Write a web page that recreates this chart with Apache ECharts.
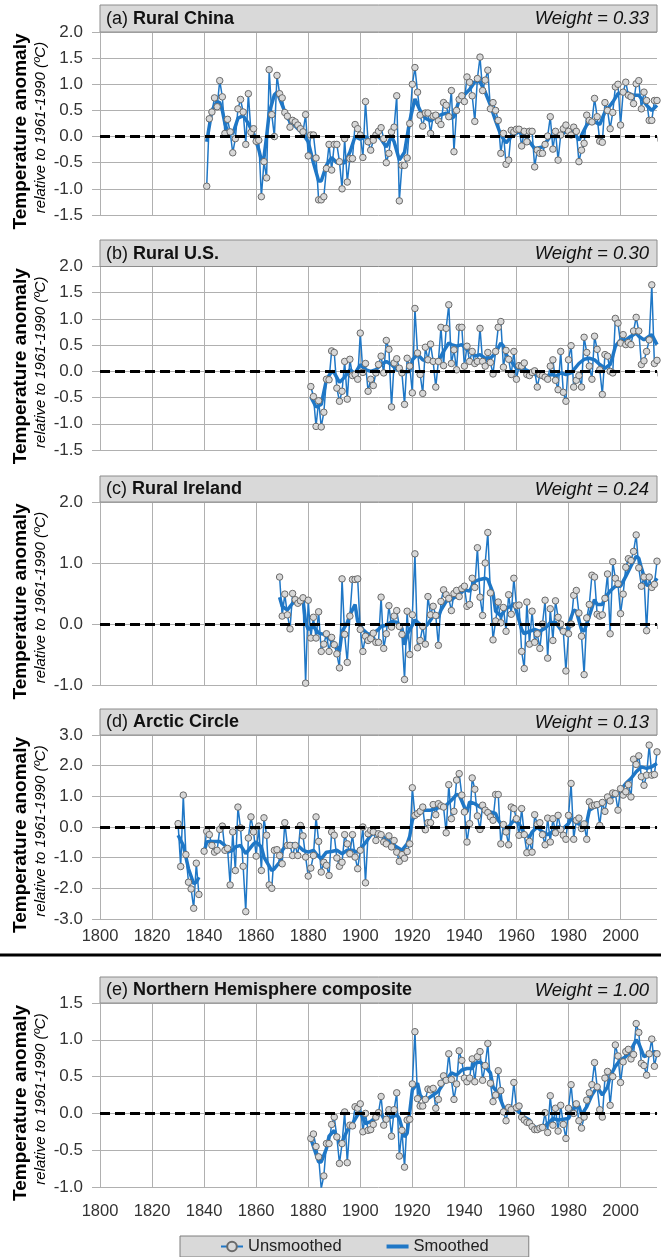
<!DOCTYPE html>
<html><head><meta charset="utf-8">
<script src="https://cdn.jsdelivr.net/npm/echarts@6/dist/echarts.min.js"></script>
<style>html,body{margin:0;padding:0;background:#fff}#c{width:661px;height:1257px}</style>
</head><body><div id="c"></div>
<script>
// ---------------- DATA ----------------
const panelLetters = ['(a)', '(b)', '(c)', '(d)', '(e)'];
const panelNames = ['Rural China', 'Rural U.S.', 'Rural Ireland', 'Arctic Circle', 'Northern Hemisphere composite'];
const panelWeights = ['0.33', '0.30', '0.24', '0.13', '1.00'];
const seriesNames = ['Unsmoothed', 'Smoothed'];

const chinaStart = 1841;
const chinaRaw = [
 -0.95,0.34,0.47,0.74,0.57,1.07,0.76,0.06,0.33,0.09,
 -0.31,-0.04,0.53,0.71,0.47,-0.15,0.82,0.08,0.15,-0.09,
 -0.07,-1.15,-0.48,-0.79,1.28,0.42,0.0,1.17,0.82,0.74,
 0.46,0.39,0.18,0.31,0.28,0.22,0.15,0.09,0.42,-0.37,
 0.03,0.03,-0.41,-1.21,-1.21,-1.15,-0.61,-0.15,-0.64,-0.15,
 -0.15,-0.48,-1.0,-0.04,-0.87,-0.42,-0.42,0.23,0.15,0.03,
 -0.4,0.67,-0.1,-0.26,-0.07,0.03,0.1,0.17,-0.04,-0.5,
 -0.32,0.09,0.18,0.78,-1.23,-0.55,-0.55,-0.41,0.25,1.0,
 1.32,0.85,0.41,0.2,0.45,0.45,0.06,0.39,0.41,0.3,
 0.23,0.65,0.6,0.38,0.88,-0.29,0.5,0.71,0.78,0.67,
 1.14,1.04,0.78,0.29,1.11,1.52,0.88,1.08,1.27,0.53,
 0.65,0.5,0.31,-0.32,0.06,-0.53,-0.45,0.12,0.09,0.14,
 0.14,-0.18,0.1,-0.1,0.1,0.1,-0.58,-0.26,-0.32,-0.32,
 -0.15,0.01,0.38,-0.24,0.1,-0.45,0.03,0.15,0.22,0.1,
 0.03,0.18,0.1,-0.48,-0.26,-0.13,0.41,0.31,0.28,0.73,
 0.38,-0.09,-0.11,0.65,0.5,0.15,0.46,0.95,1.0,0.22,
 0.85,1.04,0.79,0.76,0.63,1.01,1.07,0.53,0.85,0.69,
 0.31,0.31,0.69,0.69
];
const chinaSmooth = [
 [1841,-0.1],[1843,0.5],[1845,0.67],[1846,0.65],[1847,0.5],[1848,0.25],[1849,0.1],[1851,0.05],[1853,0.35],
 [1855,0.4],[1857,0.25],[1859,0.05],[1861,-0.25],[1862,-0.45],[1863,-0.4],[1864,0.0],[1865,0.45],[1867,0.8],
 [1868,0.85],[1870,0.6],[1872,0.35],[1874,0.25],[1876,0.15],[1878,0.05],[1880,-0.1],[1882,-0.5],[1884,-0.85],
 [1885,-0.85],[1887,-0.55],[1889,-0.4],[1891,-0.5],[1894,-0.5],[1896,-0.3],[1898,0.0],[1900,-0.05],[1902,0.0],
 [1904,-0.1],[1906,0.05],[1908,-0.05],[1910,-0.2],[1912,0.0],[1913,-0.1],[1915,-0.45],[1917,-0.3],[1919,0.3],
 [1921,0.72],[1923,0.5],[1925,0.35],[1927,0.3],[1930,0.4],[1933,0.45],[1935,0.35],[1936,0.38],[1938,0.7],
 [1940,0.8],[1942,0.9],[1944,1.05],[1946,1.05],[1948,0.85],[1950,0.6],[1952,0.3],[1954,0.03],[1956,-0.12],
 [1958,0.0],[1961,0.09],[1963,0.03],[1965,-0.1],[1967,-0.23],[1970,-0.2],[1973,0.0],[1976,0.0],[1979,0.09],
 [1982,0.09],[1984,-0.07],[1987,0.22],[1989,0.31],[1992,0.23],[1994,0.47],[1997,0.66],[1999,0.82],[2002,0.85],
 [2005,0.79],[2007,0.79],[2010,0.6],[2012,0.5],[2014,0.6]
];

const usStart = 1881;
const usRaw = [
 -0.29,-0.48,-1.05,-0.56,-1.06,-0.78,-0.15,-0.16,0.39,0.36,
 -0.32,-0.57,-0.38,0.19,-0.53,0.23,-0.08,-0.06,-0.15,0.73,
 -0.02,0.15,-0.38,-0.15,-0.27,-0.03,0.13,0.29,-0.03,0.59,
 0.42,-0.68,0.16,0.24,0.06,-0.03,-0.63,0.25,0.1,-0.41,
 1.2,0.35,-0.06,-0.42,0.46,0.22,0.52,0.19,-0.3,0.19,
 0.84,0.11,0.82,1.27,0.15,0.41,0.03,0.84,0.84,0.1,
 0.48,0.19,0.38,0.15,0.19,0.82,0.19,0.1,0.36,0.17,
 -0.05,0.38,0.84,0.95,0.08,0.4,0.23,-0.06,0.38,-0.15,
 0.11,0.1,0.16,-0.06,-0.08,-0.02,0.01,-0.3,-0.06,-0.08,
 -0.11,-0.15,0.1,0.22,-0.17,-0.35,0.38,-0.4,-0.57,0.22,
 0.49,-0.3,-0.17,-0.08,-0.3,0.65,0.36,0.1,-0.15,0.67,
 0.42,0.03,-0.44,0.32,0.29,0.0,-0.03,1.01,0.92,0.54,
 0.7,0.51,0.55,0.51,0.77,1.03,0.77,0.13,0.2,0.38,
 0.6,1.65,0.15,0.21
];
const usSmooth = [
 [1881,-0.49],[1883,-0.68],[1885,-0.63],[1887,-0.16],[1889,0.0],[1890,-0.03],[1892,-0.21],[1894,-0.11],
 [1896,0.03],[1898,-0.04],[1900,0.13],[1902,0.03],[1904,0.0],[1906,0.03],[1908,0.13],[1910,0.19],[1912,0.13],
 [1914,0.03],[1917,-0.02],[1919,0.0],[1920,0.22],[1922,0.32],[1924,0.22],[1926,0.19],[1928,0.22],[1930,0.19],
 [1932,0.38],[1934,0.54],[1935,0.51],[1937,0.48],[1939,0.51],[1941,0.41],[1943,0.38],[1944,0.29],[1946,0.32],
 [1948,0.25],[1950,0.25],[1952,0.35],[1954,0.54],[1955,0.48],[1956,0.32],[1958,0.19],[1960,0.06],[1962,0.04],
 [1964,0.02],[1966,-0.03],[1968,-0.08],[1970,-0.11],[1972,-0.08],[1974,-0.06],[1975,-0.1],[1977,-0.03],
 [1979,-0.06],[1981,-0.03],[1982,0.03],[1984,0.15],[1986,0.23],[1988,0.25],[1990,0.22],[1992,0.13],[1994,0.06],
 [1996,0.13],[1997,0.29],[1998,0.48],[2000,0.6],[2002,0.6],[2004,0.67],[2006,0.73],[2007,0.67],[2009,0.6],
 [2011,0.67],[2012,0.7],[2014,0.51]
];

const irelandStart = 1869;
const irelandRaw = [
 0.77,0.13,0.49,0.15,-0.08,0.5,0.4,0.34,0.38,0.43,
 -0.97,0.39,-0.23,0.11,-0.23,0.2,-0.45,-0.33,-0.16,-0.45,
 -0.22,-0.34,-0.49,-0.72,0.74,-0.17,-0.63,0.13,0.73,0.73,
 0.74,-0.09,-0.45,-0.2,-0.27,-0.24,-0.15,-0.3,-0.3,0.44,
 -0.4,-0.16,0.3,-0.05,0.13,0.22,-0.04,-0.17,-0.91,0.21,
 -0.5,0.15,1.15,-0.39,-0.27,-0.04,-0.33,0.45,0.15,0.29,
 0.14,-0.35,0.37,0.56,0.48,0.42,0.22,0.5,0.55,0.45,
 0.58,0.62,0.29,0.32,0.75,0.6,1.25,0.44,0.14,1.0,
 1.5,0.51,-0.26,0.05,0.36,0.02,0.27,-0.12,0.48,0.16,
 0.75,0.3,0.31,-0.45,-0.73,0.36,-0.33,0.21,-0.3,-0.16,
 -0.4,0.0,0.39,-0.56,0.25,-0.27,0.38,0.11,0.0,-0.12,
 -0.77,-0.16,0.0,0.47,0.55,0.18,-0.2,-0.83,0.1,0.32,
 0.8,0.77,0.16,0.13,0.15,0.42,0.82,-0.16,1.02,0.75,
 0.66,0.17,0.49,0.93,1.07,1.04,1.19,1.46,0.92,0.62,
 0.77,-0.11,0.77,0.6,0.65,1.03
];
const irelandSmooth = [
 [1869,0.44],[1870,0.29],[1872,0.23],[1874,0.34],[1876,0.37],[1878,0.4],[1879,0.02],[1880,-0.09],[1882,-0.04],
 [1884,-0.15],[1886,-0.17],[1888,-0.24],[1890,-0.31],[1892,-0.45],[1893,-0.12],[1895,0.02],[1896,0.15],
 [1898,0.32],[1899,0.04],[1901,-0.09],[1903,-0.17],[1905,-0.15],[1907,-0.09],[1908,-0.04],[1910,-0.02],
 [1912,0.04],[1914,0.03],[1916,-0.07],[1917,-0.34],[1918,-0.17],[1920,-0.02],[1921,0.07],[1923,-0.01],
 [1925,-0.04],[1926,0.0],[1928,0.13],[1930,0.11],[1931,0.23],[1933,0.37],[1935,0.4],[1936,0.43],[1938,0.48],
 [1940,0.56],[1942,0.54],[1944,0.7],[1946,0.73],[1948,0.75],[1949,0.73],[1951,0.51],[1952,0.21],[1954,0.13],
 [1956,0.26],[1958,0.29],[1959,0.34],[1960,0.21],[1962,-0.09],[1963,-0.16],[1965,-0.12],[1967,-0.09],
 [1969,-0.12],[1971,-0.07],[1973,0.02],[1975,0.03],[1977,-0.09],[1979,-0.17],[1980,-0.01],[1982,0.23],
 [1983,0.21],[1985,-0.09],[1986,-0.12],[1988,0.13],[1990,0.4],[1991,0.32],[1993,0.32],[1994,0.43],[1996,0.54],
 [1998,0.62],[2000,0.62],[2002,0.78],[2004,0.95],[2006,1.11],[2007,1.08],[2008,0.92],[2010,0.64],[2012,0.62],
 [2014,0.75]
];

const arcticStart = 1830;
const arcticRaw = [
 0.11,-1.29,1.04,-0.9,-1.8,-2.02,-2.65,-1.18,-2.2,null,
 -0.79,-0.14,-0.25,-0.6,-0.82,-0.76,-0.08,0.03,-0.76,-0.7,
 -1.89,-0.16,-1.42,0.65,-0.03,-1.28,-2.76,-0.36,0.33,-0.16,
 -0.95,0.03,-1.42,0.3,-0.27,-1.89,-2.0,-0.76,-0.74,-0.93,
 -1.2,0.14,-0.6,-0.6,-0.93,-0.6,-0.93,0.05,-0.29,-0.98,
 -1.6,-1.34,-0.93,0.33,-0.47,-1.47,-1.15,-1.25,-1.58,-0.16,
 -0.27,-1.01,-1.28,-1.15,-0.25,-0.55,-0.87,-0.25,-0.98,-1.36,
 -0.76,0.0,-1.82,-0.22,-0.11,-0.16,-0.44,-0.22,-0.25,-0.49,
 -0.55,-0.29,-0.65,-0.44,-0.82,-1.12,-0.9,-1.02,-0.8,-0.55,
 1.28,0.38,0.44,0.51,0.65,-0.09,0.14,0.14,0.73,0.4,
 0.76,0.69,0.65,-0.19,1.38,0.27,0.51,1.53,1.74,1.04,
 0.49,-0.49,0.11,1.6,1.23,0.36,-0.08,0.71,0.55,0.47,
 0.33,0.22,1.06,1.06,-0.55,0.08,-0.16,-0.58,0.65,0.6,
 0.27,-0.27,0.6,-0.25,-0.84,-0.47,-0.82,0.4,0.08,0.14,
 -0.25,-0.58,0.29,-0.49,0.27,-0.19,0.38,-0.08,-0.27,-0.4,
 0.38,1.42,-0.4,0.22,0.29,-0.05,0.1,-0.4,0.82,0.69,
 0.71,0.73,0.05,0.8,0.51,0.98,0.85,1.11,1.09,0.55,
 1.25,1.04,1.15,1.38,0.98,2.21,2.04,2.32,1.64,1.36,
 1.69,2.67,1.69,1.71,2.45
];
const arcticSmooth = [
 [1830,-0.27],[1832,-0.6],[1834,-1.36],[1836,-1.85],[1837,-1.8],[1838,-1.64],[1839,null],
 [1840,-0.82],[1841,-0.49],[1842,-0.47],[1844,-0.47],[1846,-0.47],[1848,-0.6],[1849,-0.82],[1851,-0.76],
 [1852,-0.65],[1854,-0.6],[1856,-0.87],[1857,-0.76],[1859,-0.55],[1860,-0.49],[1862,-0.65],[1863,-0.98],
 [1866,-1.42],[1867,-1.36],[1869,-1.15],[1870,-0.76],[1872,-0.55],[1874,-0.55],[1876,-0.6],[1878,-0.76],
 [1880,-0.82],[1882,-0.76],[1883,-0.87],[1885,-1.04],[1887,-0.82],[1889,-0.8],[1891,-0.76],[1893,-0.87],
 [1895,-0.76],[1897,-0.76],[1899,-0.82],[1900,-0.71],[1902,-0.51],[1904,-0.27],[1906,-0.16],[1908,-0.27],
 [1910,-0.4],[1912,-0.55],[1914,-0.65],[1916,-0.76],[1918,-0.55],[1919,-0.3],[1920,0.22],[1921,0.38],
 [1923,0.49],[1925,0.55],[1927,0.55],[1929,0.6],[1931,0.65],[1933,0.71],[1935,0.87],[1937,1.06],[1938,1.04],
 [1940,0.65],[1941,0.49],[1942,0.82],[1944,0.76],[1946,0.65],[1948,0.55],[1950,0.49],[1952,0.44],[1953,0.22],
 [1955,0.0],[1957,0.0],[1959,0.22],[1961,0.11],[1963,-0.22],[1965,-0.33],[1966,-0.16],[1968,0.0],[1970,-0.16],
 [1972,-0.25],[1974,-0.16],[1976,0.0],[1978,-0.05],[1980,0.11],[1981,0.27],[1983,0.14],[1985,0.05],[1987,0.14],
 [1988,0.55],[1990,0.65],[1992,0.71],[1994,0.82],[1996,0.93],[1998,1.04],[2000,1.2],[2002,1.42],[2004,1.58],
 [2006,1.8],[2008,1.96],[2010,1.91],[2012,1.96],[2013,2.02],[2014,2.07]
];

const nhStart = 1881;
const nhRaw = [
 -0.34,-0.28,-0.45,-0.59,-1.02,-0.85,-0.41,-0.41,-0.15,-0.05,
 -0.32,-0.68,-0.41,0.02,-0.67,-0.16,-0.17,0.09,0.07,0.13,
 -0.25,0.0,-0.23,-0.22,-0.15,-0.05,0.01,0.23,-0.16,-0.08,
 0.05,-0.31,0.05,0.28,-0.58,-0.23,-0.73,-0.09,-0.08,0.4,
 1.11,0.2,0.1,0.1,0.19,0.33,0.32,0.34,0.07,0.19,
 0.41,0.51,0.45,0.81,0.46,0.19,0.4,0.85,0.72,0.48,
 0.43,0.48,0.74,0.43,0.77,0.84,0.45,0.65,0.95,0.41,
 0.16,0.25,0.58,0.31,0.02,-0.1,0.08,0.05,0.42,0.08,
 0.1,-0.05,-0.09,-0.12,-0.13,-0.18,-0.22,-0.22,-0.2,-0.19,
 0.01,-0.26,0.24,-0.16,0.07,-0.24,0.11,-0.15,-0.34,0.07,
 0.39,0.0,0.13,-0.1,-0.2,-0.05,0.18,0.28,0.39,0.69,
 0.36,0.05,-0.05,0.48,0.57,0.11,0.5,0.93,0.78,0.42,
 0.7,0.84,0.87,0.74,0.8,1.22,1.1,0.68,0.65,0.52,
 0.81,1.01,0.64,0.81
];
const nhSmooth = [
 [1881,-0.34],[1882,-0.45],[1884,-0.66],[1885,-0.66],[1887,-0.48],[1888,-0.31],[1890,-0.23],[1892,-0.4],
 [1893,-0.39],[1895,-0.23],[1897,-0.14],[1899,-0.02],[1900,0.02],[1902,-0.14],[1904,-0.11],[1906,-0.05],
 [1908,0.0],[1909,-0.07],[1912,-0.05],[1914,-0.02],[1915,-0.07],[1917,-0.32],[1918,-0.27],[1919,0.02],
 [1920,0.32],[1922,0.41],[1923,0.25],[1925,0.16],[1926,0.2],[1928,0.25],[1930,0.3],[1932,0.41],[1934,0.5],
 [1935,0.55],[1937,0.52],[1939,0.59],[1941,0.61],[1943,0.61],[1944,0.68],[1946,0.7],[1948,0.64],[1950,0.55],
 [1951,0.36],[1953,0.27],[1955,0.09],[1957,0.05],[1959,0.07],[1961,0.02],[1963,-0.05],[1965,-0.09],
 [1966,-0.16],[1968,-0.2],[1970,-0.2],[1972,-0.14],[1974,-0.07],[1976,-0.09],[1978,-0.08],[1980,-0.07],
 [1982,0.07],[1984,0.1],[1985,-0.02],[1987,0.09],[1989,0.25],[1991,0.36],[1993,0.25],[1995,0.36],[1996,0.5],
 [1998,0.64],[2000,0.73],[2002,0.77],[2004,0.86],[2006,1.0],[2007,0.95],[2009,0.77],[2011,0.8],[2013,0.84],
 [2014,0.82]
];

// ---------------- CHART ----------------
const FONT = '"Liberation Sans", Arial, sans-serif';
const BLUE = '#1f77c6';
const GRIDC = '#b0b0b0';
const PLOT_L = 100, PLOT_R = 657;

const panels = [
  {boxTop: 5,   top: 32,   height: 183, min: -1.5, max: 2,   interval: 0.5, xLabels: false, start: chinaStart,   raw: chinaRaw,   smooth: chinaSmooth},
  {boxTop: 240, top: 266.5, height: 183.5, min: -1.5, max: 2, interval: 0.5, xLabels: false, start: usStart,      raw: usRaw,      smooth: usSmooth},
  {boxTop: 476, top: 502,  height: 183, min: -1,   max: 2,   interval: 1,   xLabels: false, start: irelandStart, raw: irelandRaw, smooth: irelandSmooth},
  {boxTop: 709, top: 735,  height: 184, min: -3,   max: 3,   interval: 1,   xLabels: true,  start: arcticStart,  raw: arcticRaw,  smooth: arcticSmooth},
  {boxTop: 977, top: 1003, height: 184, min: -1,   max: 1.5, interval: 0.5, xLabels: true,  start: nhStart,      raw: nhRaw,      smooth: nhSmooth}
];

const grid = [], xAxis = [], yAxis = [], series = [], graphic = [];

panels.forEach((p, i) => {
  grid.push({left: PLOT_L, width: PLOT_R - PLOT_L, top: p.top, height: p.height, containLabel: false});
  xAxis.push({
    type: 'value', gridIndex: i, min: 1800, max: 2014, interval: 20,
    axisLine: {show: true, lineStyle: {color: GRIDC, width: 1}},
    axisTick: {show: true, length: 5, lineStyle: {color: GRIDC}},
    splitLine: {show: true, showMaxLine: false, lineStyle: {color: GRIDC, width: 1}},
    axisLabel: {
      show: p.xLabels, showMaxLabel: false, margin: i === 4 ? 16 : 9,
      fontFamily: FONT, fontSize: 16.5, color: '#333',
      formatter: v => (v % 20 === 0 ? String(v) : '')
    }
  });
  yAxis.push({
    type: 'value', gridIndex: i, min: p.min, max: p.max, interval: p.interval,
    axisLine: {show: true, lineStyle: {color: GRIDC, width: 1}},
    axisTick: {show: true, length: 8, lineStyle: {color: GRIDC}},
    splitLine: {show: true, lineStyle: {color: GRIDC, width: 1}},
    axisLabel: {margin: 17, fontFamily: FONT, fontSize: 17, color: '#333', formatter: v => v.toFixed(1)}
  });
  series.push({
    name: seriesNames[0], type: 'line', xAxisIndex: i, yAxisIndex: i,
    data: p.raw.map((v, k) => [p.start + k, v === null ? '-' : v]),
    symbol: 'circle', symbolSize: 6.5, showSymbol: true, showAllSymbol: true,
    lineStyle: {color: BLUE, width: 1.5},
    itemStyle: {color: '#d8d8d8', borderColor: '#6a6a6a', borderWidth: 1},
    z: 3, animation: false, silent: true
  });
  series.push({
    name: seriesNames[1], type: 'line', xAxisIndex: i, yAxisIndex: i,
    data: p.smooth.map(d => [d[0], d[1] === null ? '-' : d[1]]),
    symbol: 'none', lineStyle: {color: BLUE, width: 3.5}, itemStyle: {color: BLUE},
    z: 2, animation: false, silent: true,
    markLine: {
      silent: true, symbol: 'none', label: {show: false}, animation: false,
      lineStyle: {color: '#000', type: [10, 5], width: 3},
      data: [{yAxis: 0}]
    }
  });

  // title box
  graphic.push({
    type: 'rect', shape: {x: PLOT_L, y: p.boxTop, width: PLOT_R - PLOT_L, height: p.top - p.boxTop},
    style: {fill: '#d9d9d9', stroke: '#8c8c8c', lineWidth: 1}, z: 10
  });
  graphic.push({
    type: 'text', x: PLOT_L + 6, y: (p.boxTop + p.top) / 2 + 0.5, z: 11,
    style: {
      text: '{n|' + panelLetters[i] + ' }{b|' + panelNames[i] + '}',
      verticalAlign: 'middle', textVerticalAlign: 'middle', align: 'left',
      rich: {
        n: {fontFamily: FONT, fontSize: 18, fill: '#111', color: '#111'},
        b: {fontFamily: FONT, fontSize: 18, fontWeight: 'bold', fill: '#111', color: '#111'}
      }
    }
  });
  graphic.push({
    type: 'text', x: PLOT_R - 8, y: (p.boxTop + p.top) / 2 + 0.5, z: 11,
    style: {
      text: 'Weight = ' + panelWeights[i],
      font: 'italic 18.5px ' + FONT, fill: '#111',
      align: 'right', textAlign: 'right', verticalAlign: 'middle', textVerticalAlign: 'middle'
    }
  });
  // y-axis names
  const cy = p.top + p.height / 2 + 8;
  graphic.push({
    type: 'text', x: 21, y: cy, rotation: Math.PI / 2, z: 11,
    style: {text: 'Temperature anomaly', font: 'bold 19px ' + FONT, fill: '#000',
      align: 'center', textAlign: 'center', verticalAlign: 'middle', textVerticalAlign: 'middle'}
  });
  graphic.push({
    type: 'text', x: 41, y: cy - 4, rotation: Math.PI / 2, z: 11,
    style: {text: 'relative to 1961-1990 (ºC)', font: 'italic 15px ' + FONT, fill: '#000',
      align: 'center', textAlign: 'center', verticalAlign: 'middle', textVerticalAlign: 'middle'}
  });
});

// separator between (d) and (e)
graphic.push({type: 'line', shape: {x1: 0, y1: 955, x2: 661, y2: 955}, style: {stroke: '#000', lineWidth: 3}, z: 10});

const chart = echarts.init(document.getElementById('c'), null, {renderer: 'canvas', width: 661, height: 1257});
chart.setOption({
  animation: false,
  backgroundColor: '#fff',
  grid, xAxis, yAxis, series, graphic,
  legend: {
    data: [
      {name: seriesNames[0]},
      {name: seriesNames[1], icon: 'path://M0,0 L22,0 L22,4 L0,4 Z'}
    ],
    left: 180, top: 1236,
    backgroundColor: '#d9d9d9', borderColor: '#7f7f7f', borderWidth: 1,
    padding: [2, 40, 2, 40], itemGap: 45, itemWidth: 22, itemHeight: 12,
    textStyle: {fontFamily: FONT, fontSize: 16.5, color: '#222'}
  }
});
</script></body></html>
